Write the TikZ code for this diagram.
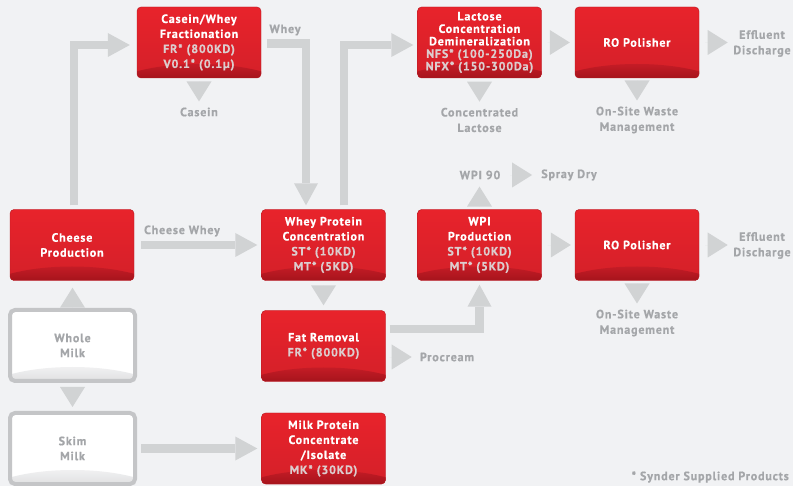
\documentclass[tikz,border=0pt]{standalone}
\usepackage{fontspec}
\setmainfont{PT Sans}
\newfontfamily\dfont[LetterSpace=7,BoldFeatures={FakeBold=0.6}]{PT Sans}
\usetikzlibrary{arrows.meta,calc}
\definecolor{bg}{HTML}{F1F2F4}
\definecolor{arrowgray}{HTML}{D1D3D4}
\definecolor{lblgray}{HTML}{A4A6A9}
\definecolor{redtop}{HTML}{E8232B}
\definecolor{redbot}{HTML}{D42029}
\definecolor{bandtop}{HTML}{C41C26}
\definecolor{bandbot}{HTML}{A6141C}
\definecolor{subtext}{HTML}{DCCDCE}
\definecolor{wborder}{HTML}{C4C5C7}
\definecolor{wbandtop}{HTML}{F0F0F1}
\definecolor{wbandbot}{HTML}{E0E1E2}
\begin{document}
\begin{tikzpicture}[x=1pt,y=-1pt,
  redbox/.style={rounded corners=4pt, minimum width=124pt, minimum height=71pt, inner sep=0pt,
    align=center, text=white, font=\dfont\bfseries\fontsize{12}{15}\selectfont,
    top color=redtop, bottom color=redbot, draw=redbot!85!black, line width=0.4pt,
    path picture={\begin{scope}
      \clip ([yshift=-20pt]path picture bounding box.south) ellipse [x radius=100pt, y radius=34pt];
      \shade[top color=bandtop,bottom color=bandbot]
        ([yshift=14pt]path picture bounding box.south west) rectangle (path picture bounding box.south east);
      \end{scope}}},
  whitebox/.style={rounded corners=5pt, minimum width=125pt, minimum height=71pt, inner sep=0pt,
    align=center, text=lblgray, font=\dfont\bfseries\fontsize{12}{15}\selectfont,
    fill=white, draw=wborder, line width=4pt,
    path picture={\begin{scope}
      \clip ([yshift=-20pt]path picture bounding box.south) ellipse [x radius=100pt, y radius=34pt];
      \shade[top color=wbandtop,bottom color=wbandbot]
        ([yshift=14pt]path picture bounding box.south west) rectangle (path picture bounding box.south east);
      \end{scope}}},
  lbl/.style={text=lblgray, align=center, inner sep=0pt, font=\dfont\bfseries\fontsize{12}{15.5}\selectfont},
  flow/.style={draw=arrowgray, line width=8.5pt, line cap=butt,
    -{Triangle[width=24pt,length=22pt,line width=0pt]}},
  head/.style={draw=arrowgray, line width=0.01pt,
    -{Triangle[width=25pt,length=20pt,line width=0pt]}}
]
\useasboundingbox (0,0) rectangle (793,486);
\fill[bg] (0,0) rectangle (793,486);

% boxes
\node[redbox] (casein) at (199,42.5) {Casein/Whey\\Fractionation\\{\color{subtext}FR* (800KD)}\\{\color{subtext}V0.1* (0.1µ)}};
\node[redbox, font=\dfont\bfseries\fontsize{12}{12.5}\selectfont] (lactose) at (479.5,42.5) {Lactose\\Concentration\\Demineralization\\{\color{subtext}NFS* (100-250Da)}\\{\color{subtext}NFX* (150-300Da)}};
\node[redbox] (ro1) at (637,42.5) {RO Polisher};
\node[redbox] (cheese) at (72,245) {Cheese\\Production};
\node[redbox] (wpc) at (323.5,245) {Whey Protein\\Concentration\\{\color{subtext}ST* (10KD)}\\{\color{subtext}MT* (5KD)}};
\node[redbox] (wpi) at (479.5,245) {WPI\\Production\\{\color{subtext}ST* (10KD)}\\{\color{subtext}MT* (5KD)}};
\node[redbox] (ro2) at (637,245) {RO Polisher};
\node[redbox] (fat) at (323.5,346) {Fat Removal\\{\color{subtext}FR* (800KD)}};
\node[redbox] (mpc) at (323.5,448.5) {Milk Protein\\Concentrate\\/Isolate\\{\color{subtext}MK* (30KD)}};
\node[whitebox] (whole) at (72.5,345.5) {Whole\\Milk};
\node[whitebox] (skim) at (72.5,448.5) {Skim\\Milk};

% labels
\node[lbl] (wheylbl) at (285,30) {Whey};
\node[lbl] (caseinlbl) at (199,112) {Casein};
\node[lbl] (conclbl) at (479.5,120) {Concentrated\\Lactose};
\node[lbl] (eff1) at (762,43.5) {Effluent\\Discharge};
\node[lbl] (onsite1) at (637,120) {On-Site Waste\\Management};
\node[lbl] (cwlbl) at (182,231) {Cheese Whey};
\node[lbl] (wpi90) at (480,175) {WPI 90};
\node[lbl] (spray) at (569,175) {Spray Dry};
\node[lbl] (eff2) at (762,245.5) {Effluent\\Discharge};
\node[lbl] (onsite2) at (637,323) {On-Site Waste\\Management};
\node[lbl] (procream) at (447,357) {Procream};
\node[lbl, anchor=east] (note) at (789,477) {* Synder Supplied Products};

% flows with shafts
\draw[flow, shorten <=4pt, shorten >=7pt] ([xshift=2pt]cheese.north) |- ([yshift=-2.5pt]casein.west);
\draw[flow, shorten <=6pt, shorten >=4pt] ([yshift=-1pt]casein.east) -| ([xshift=-17.5pt]wpc.north);
\draw[flow, shorten <=4pt, shorten >=4pt] ([xshift=20.5pt]wpc.north) |- ([yshift=-2.5pt]lactose.west);
\draw[flow, shorten <=7pt, shorten >=4pt] (cheese.east) -- (wpc.west);
\draw[flow, shorten <=4pt, shorten >=4pt] (skim.east) -- (skim.east -| mpc.west);
\draw[flow, shorten <=4pt, shorten >=4pt] ([yshift=17pt]fat.east) -| (wpi.south);

% head-only arrows
\draw[head, shorten <=5pt, shorten >=6pt] (casein.south) -- (casein.south |- caseinlbl.north);
\draw[head, shorten <=5pt, shorten >=6pt] (lactose.south) -- (lactose.south |- conclbl.north);
\draw[head, shorten <=6pt, shorten >=5pt] (lactose.east) -- (ro1.west);
\draw[head, shorten <=6pt, shorten >=5.5pt] (ro1.east) -- (ro1.east -| eff1.west);
\draw[head, shorten <=5pt, shorten >=6pt] (ro1.south) -- (ro1.south |- onsite1.north);
\draw[head, shorten <=5pt, shorten >=5pt] (wpc.south) -- (fat.north);
\draw[head, shorten <=2pt, shorten >=7pt] (whole.north) -- (whole.north |- cheese.south);
\draw[head, shorten <=4pt, shorten >=4pt] (whole.south) -- (skim.north);
\draw[head, shorten <=4pt, shorten >=8pt] ([yshift=-11pt]fat.east) -- ([yshift=-11pt]fat.east -| procream.west);
\draw[head, shorten <=4pt, shorten >=7pt] (wpi.north) -- (wpi.north |- wpi90.south);
\draw[head, shorten <=9.5pt, shorten >=9pt] (wpi90.east) -- (spray.west);
\draw[head, shorten <=6pt, shorten >=4pt] (wpi.east) -- (ro2.west);
\draw[head, shorten <=6pt, shorten >=5.5pt] (ro2.east) -- (ro2.east -| eff2.west);
\draw[head, shorten <=5pt, shorten >=6pt] (ro2.south) -- (ro2.south |- onsite2.north);
\end{tikzpicture}
\end{document}
